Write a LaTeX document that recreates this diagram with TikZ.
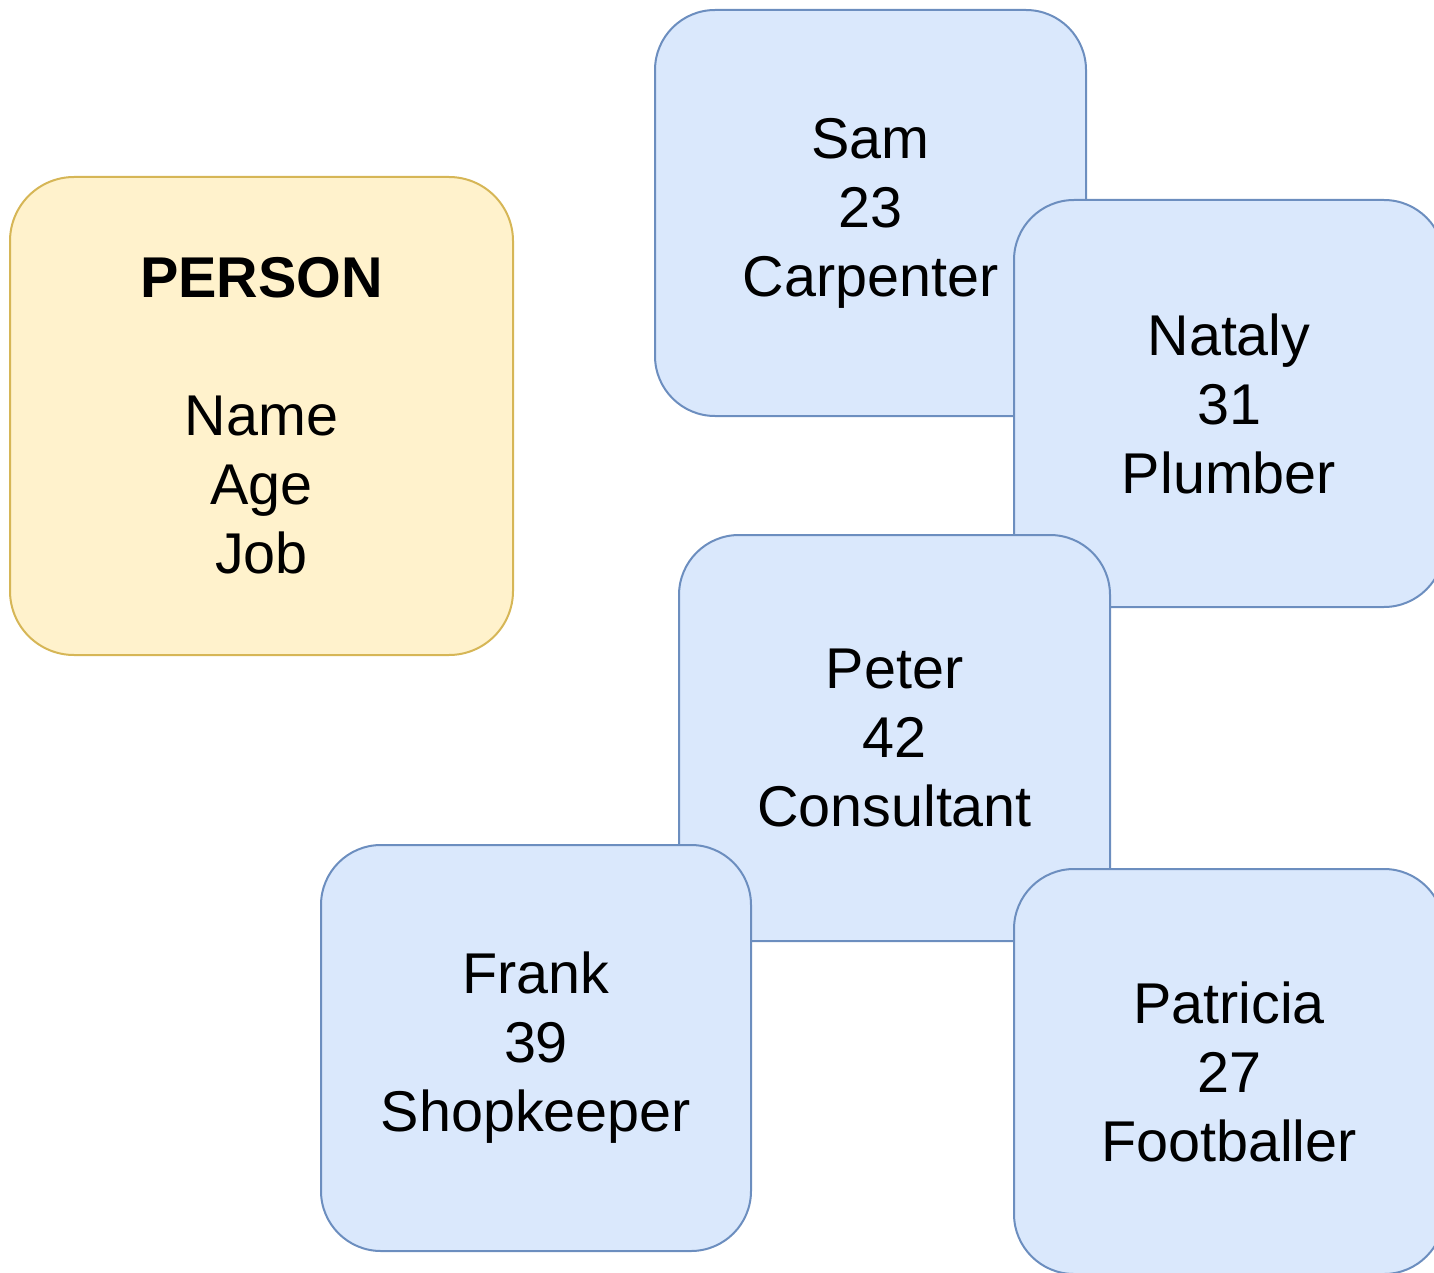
\documentclass[tikz,border=0pt]{standalone}
\usepackage{fontspec}
\setmainfont{Liberation Sans}
\definecolor{bluefill}{HTML}{DAE8FC}
\definecolor{blueline}{HTML}{6C8EBF}
\definecolor{yellowfill}{HTML}{FFF2CC}
\definecolor{yellowline}{HTML}{D6B656}
\tikzset{
  card/.style={draw=blueline, fill=bluefill, line width=1pt, rounded corners=30pt,
    inner sep=0pt, align=center, minimum width=215pt, minimum height=203pt,
    font=\fontsize{28.75}{34.5}\selectfont},
  classcard/.style={card, draw=yellowline, fill=yellowfill, rounded corners=32pt,
    minimum width=251.5pt, minimum height=239pt}
}
\begin{document}
\begin{tikzpicture}[x=0.5pt,y=-0.5pt]
\useasboundingbox (0,0) rectangle (1434,1273);
\clip (0,0) rectangle (1434,1273);
\node[classcard] (person) at (261.5,416) {\textbf{PERSON}\\[34.5pt]Name\\Age\\Job};
\node[card, minimum width=215.5pt] (sam) at (870.5,213) {Sam\\23\\Carpenter};
\node[card, minimum height=203.5pt] (nataly) at (1229,403.5) {Nataly\\31\\Plumber};
\node[card, minimum width=215.5pt] (peter) at (894.5,738) {Peter\\42\\Consultant};
\node[card] (frank) at (536,1048) {Frank\\39\\Shopkeeper};
\node[card, minimum height=202.5pt] (patricia) at (1229,1071.5) {Patricia\\27\\Footballer};
\end{tikzpicture}
\end{document}
